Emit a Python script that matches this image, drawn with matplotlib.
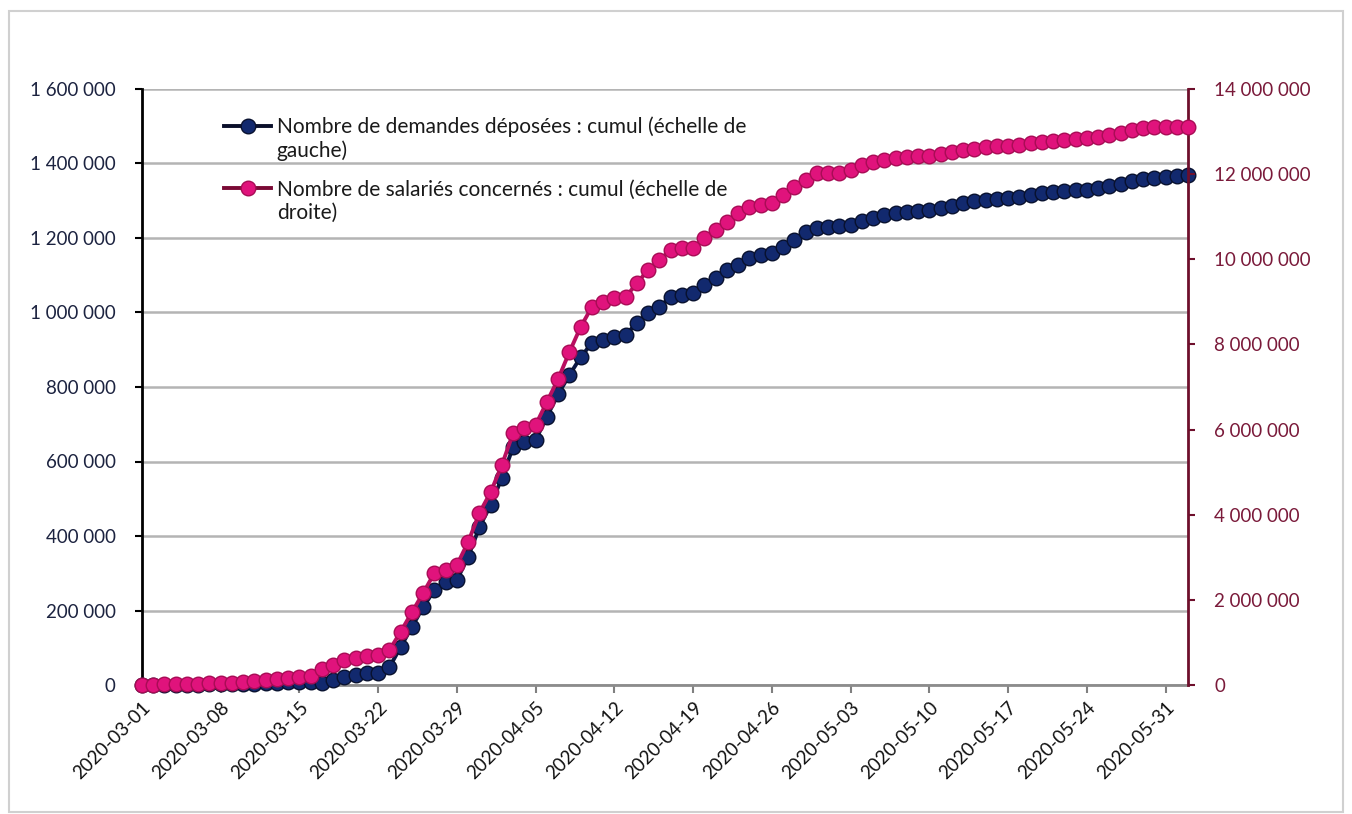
import numpy as np
import pandas as pd
import matplotlib
matplotlib.use("Agg")
import matplotlib.pyplot as plt
import matplotlib.dates as mdates
from matplotlib.ticker import FuncFormatter, MultipleLocator
from matplotlib.patches import Rectangle

plt.rcParams['font.family'] = ['Lato', 'DejaVu Sans']

# Données journalières cumulées, du 1er mars au 2 juin 2020
dates = pd.date_range("2020-03-01", "2020-06-02", freq="D")

# Nombre de demandes déposées, cumul (en milliers)
demandes_k = [
    0, 0, 0, 1, 1, 1, 2, 2, 2, 3, 4, 5, 6, 7, 7, 8,
    5, 13, 21, 27, 32, 32, 48, 102, 156, 209, 255, 277, 282, 344,
    424, 483, 556, 639, 652, 658, 720, 781, 832, 880, 918, 926, 934, 940,
    972, 999, 1015, 1042, 1047, 1052, 1074, 1093, 1114, 1128, 1146, 1154, 1160,
    1176, 1195, 1216, 1228, 1230, 1232, 1234, 1245, 1255, 1262, 1268, 1270,
    1272, 1274, 1280, 1287, 1293, 1298, 1303, 1305, 1307, 1310, 1315, 1320,
    1323, 1326, 1328, 1330, 1334, 1340, 1346, 1352, 1358, 1362, 1364, 1366, 1368,
]

# Nombre de salariés concernés, cumul (en millions)
salaries_m = [
    0.01, 0.01, 0.02, 0.02, 0.03, 0.03, 0.04, 0.05, 0.05, 0.07, 0.09, 0.11,
    0.14, 0.17, 0.19, 0.20,
    0.38, 0.47, 0.59, 0.64, 0.68, 0.70, 0.82, 1.25, 1.71, 2.16, 2.63, 2.70,
    2.82, 3.36, 4.04, 4.53, 5.17, 5.92, 6.04, 6.11, 6.65, 7.19, 7.82, 8.41,
    8.88, 9.00, 9.09, 9.11, 9.44, 9.75, 9.98, 10.22, 10.27, 10.27, 10.50,
    10.69, 10.88, 11.09, 11.23, 11.28, 11.32, 11.51, 11.70, 11.86, 12.03,
    12.03, 12.03, 12.10, 12.21, 12.28, 12.34, 12.38, 12.40, 12.42, 12.43,
    12.47, 12.52, 12.56, 12.60, 12.64, 12.66, 12.67, 12.69, 12.72, 12.76,
    12.78, 12.81, 12.83, 12.84, 12.87, 12.92, 12.97, 13.03, 13.08, 13.10,
    13.10, 13.10, 13.11,
]

demandes = np.array(demandes_k) * 1000
salaries = np.array(salaries_m) * 1e6

# libellés de légende : première ligne dans la légende, suite en dessous
lab_demandes = ["Nombre de demandes déposées : cumul (échelle de", "gauche)"]
lab_salaries = ["Nombre de salariés concernés : cumul (échelle de", "droite)"]

bleu_ligne, bleu_point = "#0b1744", "#12296e"
rose_ligne, rose_point = "#b80f60", "#e0137c"
bordeaux = "#6e0f2c"
taille = 13.5

def fmt_espaces(v, pos):
    return f"{v:,.0f}".replace(",", " ")

fig = plt.figure(figsize=(13.52, 8.14), dpi=100)
fig.patches.append(Rectangle((9 / 1352, 2 / 814), 1334 / 1352, 801 / 814,
                             transform=fig.transFigure, fill=False,
                             edgecolor="#d0d0d0", lw=1.5))

ax = fig.add_axes([142 / 1352, 1 - 685 / 814, 1046 / 1352, 596 / 814])
ax2 = ax.twinx()

l1, = ax.plot(dates, demandes, "-o", color=bleu_ligne, lw=2.8, ms=10.5,
              mfc=bleu_point, mec="#08112f", mew=1.0,
              clip_on=False, zorder=3)
l2, = ax2.plot(dates, salaries, "-o", color=rose_ligne, lw=2.8, ms=10.5,
               mfc=rose_point, mec="#a80c55", mew=1.0,
               clip_on=False, zorder=3)

# axe gauche
ax.set_ylim(0, 1600000)
ax.yaxis.set_major_locator(MultipleLocator(200000))
ax.yaxis.set_major_formatter(FuncFormatter(fmt_espaces))
ax.grid(axis="y", color="#b4b4b4", lw=1.8)
ax.set_axisbelow(True)
ax.tick_params(axis="y", colors="#1c2340", labelsize=taille, length=5,
               width=1.5, pad=14)
ax.tick_params(axis="y", which="both", color="#000000")

# axe droit
ax2.set_ylim(0, 14000000)
ax2.yaxis.set_major_locator(MultipleLocator(2000000))
ax2.yaxis.set_major_formatter(FuncFormatter(fmt_espaces))
ax2.tick_params(axis="y", colors="#7a1a3a", labelsize=taille, length=5,
                width=1.5, pad=14)
ax2.tick_params(axis="y", color=bordeaux)

# axe des dates
ax.set_xlim(dates[0], dates[-1])
ax.set_xticks(pd.date_range("2020-03-01", "2020-05-31", freq="7D"))
ax.xaxis.set_major_formatter(mdates.DateFormatter("%Y-%m-%d"))
ax.tick_params(axis="x", labelsize=taille, length=6, width=1.5,
               color="#808080", labelcolor="#111111", pad=4)
plt.setp(ax.get_xticklabels(), rotation=45, ha="right",
         rotation_mode="anchor")

for a in (ax, ax2):
    a.spines["top"].set_visible(False)
ax.spines["left"].set_color("#000000")
ax.spines["left"].set_linewidth(2)
ax.spines["bottom"].set_color("#8c8c8c")
ax.spines["bottom"].set_linewidth(2)
ax.spines["right"].set_visible(False)
ax2.spines["left"].set_visible(False)
ax2.spines["bottom"].set_visible(False)
ax2.spines["right"].set_color(bordeaux)
ax2.spines["right"].set_linewidth(2)

leg = ax2.legend([l1, l2], [lab_demandes[0], lab_salaries[0]],
                 loc="upper left", bbox_to_anchor=(0.070, 0.968),
                 frameon=False, fontsize=15, handlelength=2.3,
                 handletextpad=0.25, labelspacing=2.05, borderaxespad=0)
leg.legend_handles[0].set_color("#0a0f2a")
leg.legend_handles[0].set_markerfacecolor(bleu_point)
leg.legend_handles[1].set_color("#7a0a35")
leg.legend_handles[1].set_markerfacecolor(rose_point)
for t in leg.get_texts():
    t.set_color("#1a1a1a")
leg.set_zorder(5)

# suite des libellés sur une seconde ligne
fig.canvas.draw()
W, H = fig.canvas.get_width_height()
for t, suite in zip(leg.get_texts(), [lab_demandes[1], lab_salaries[1]]):
    bb = t.get_window_extent()
    fig.text(bb.x0 / W, (bb.y0 - 3) / H, suite, fontsize=15,
             color="#1a1a1a", va="top", ha="left")

fig.savefig("out.png", dpi=100)
